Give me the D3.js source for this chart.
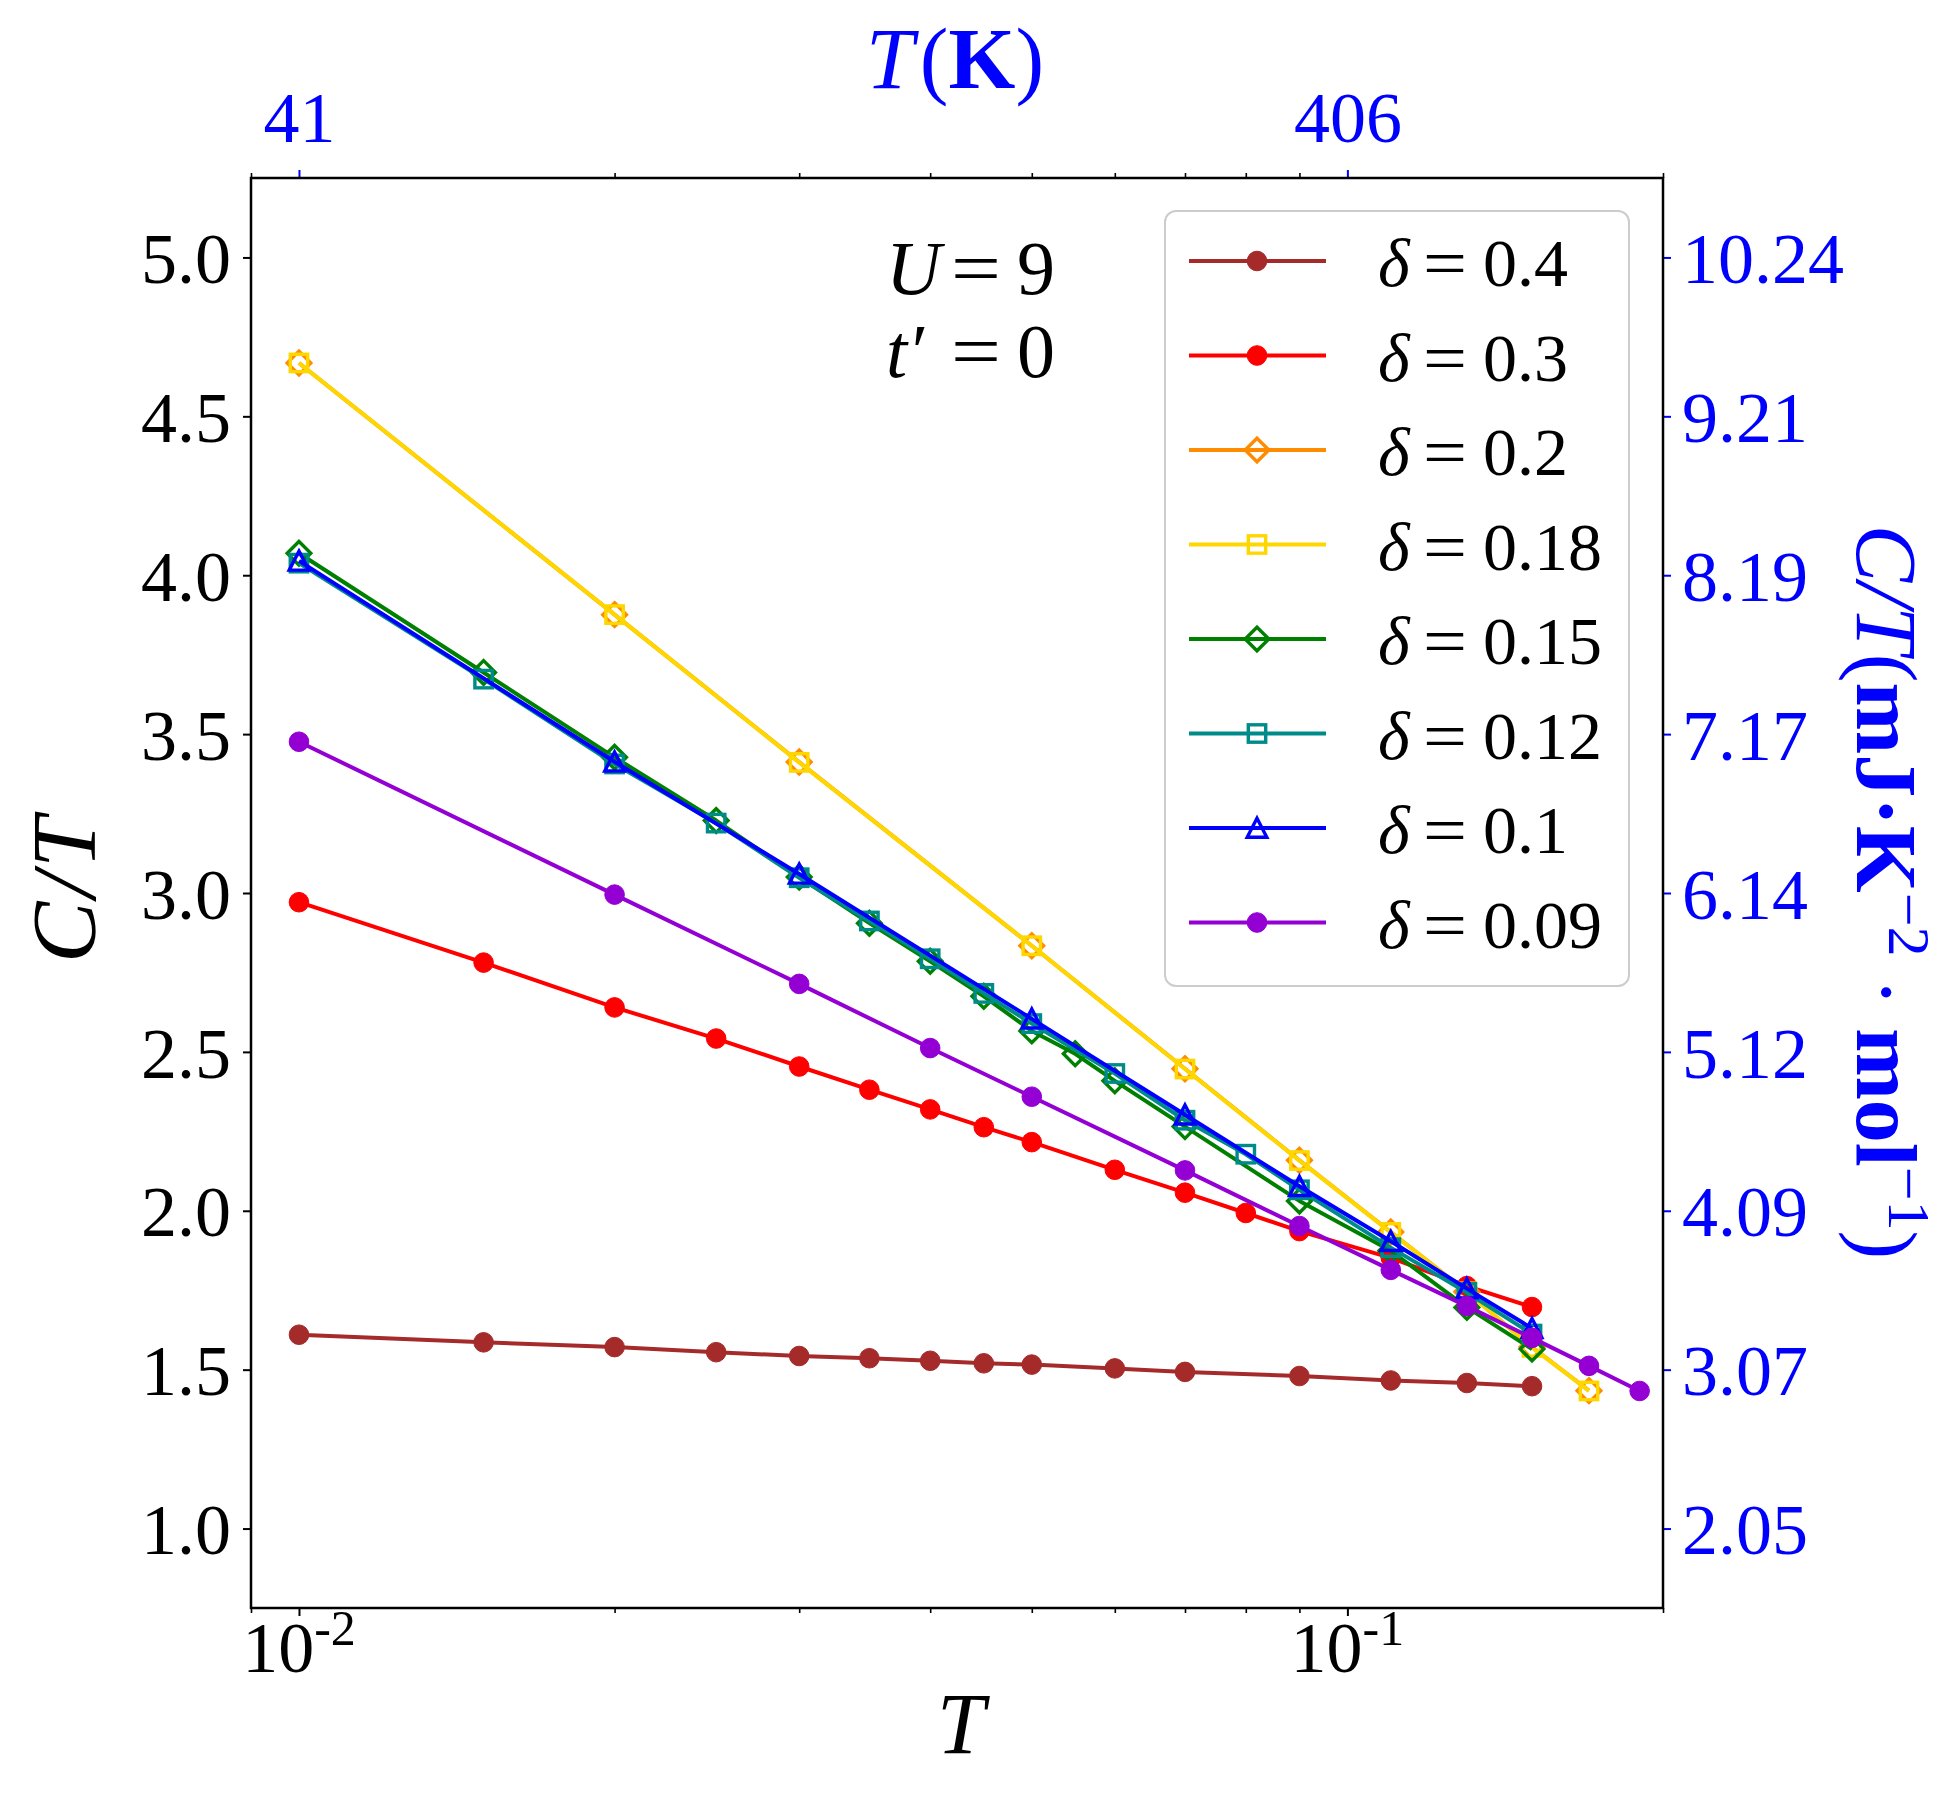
<!DOCTYPE html>
<html>
<head>
<meta charset="utf-8">
<script src="https://cdn.jsdelivr.net/npm/d3@7"></script>
<style>
    body { margin: 0; background: #ffffff; }
    text { font-family: "Liberation Serif", "Times New Roman", serif; }
</style>
</head>
<body>
<svg id="chart" width="1950" height="1800"></svg>
<script>
// C/T vs T, one pair of arrays per doping delta
var T_040 = [0.01, 0.015, 0.02, 0.025, 0.03, 0.035, 0.04, 0.045, 0.05, 0.06, 0.07, 0.09, 0.11, 0.13, 0.15];
var CT_040 = [1.610, 1.586, 1.571, 1.555, 1.543, 1.536, 1.528, 1.520, 1.516, 1.504, 1.493, 1.480, 1.466, 1.458, 1.448];

var T_030 = [0.01, 0.015, 0.02, 0.025, 0.03, 0.035, 0.04, 0.045, 0.05, 0.06, 0.07, 0.08, 0.09, 0.11, 0.13, 0.15];
var CT_030 = [2.971, 2.781, 2.640, 2.542, 2.454, 2.381, 2.319, 2.263, 2.216, 2.129, 2.057, 1.993, 1.936, 1.852, 1.763, 1.697];

var T_020 = [0.01, 0.02, 0.03, 0.05, 0.07, 0.09, 0.11, 0.13, 0.15, 0.17];
var CT_020 = [4.668, 3.876, 3.412, 2.834, 2.447, 2.159, 1.933, 1.745, 1.571, 1.434];

var T_018 = [0.01, 0.02, 0.03, 0.05, 0.07, 0.09, 0.11, 0.13, 0.15, 0.17];
var CT_018 = [4.668, 3.876, 3.411, 2.834, 2.446, 2.158, 1.932, 1.745, 1.570, 1.433];

var T_015 = [0.01, 0.015, 0.02, 0.025, 0.03, 0.035, 0.04, 0.045, 0.05, 0.055, 0.06, 0.07, 0.09, 0.11, 0.13, 0.15];
var CT_015 = [4.069, 3.694, 3.427, 3.228, 3.050, 2.905, 2.785, 2.675, 2.566, 2.494, 2.409, 2.265, 2.031, 1.874, 1.696, 1.565];

var T_012 = [0.01, 0.015, 0.02, 0.025, 0.03, 0.035, 0.04, 0.045, 0.05, 0.06, 0.07, 0.08, 0.09, 0.11, 0.13, 0.15];
var CT_012 = [4.038, 3.673, 3.406, 3.220, 3.048, 2.912, 2.793, 2.684, 2.589, 2.432, 2.285, 2.178, 2.066, 1.884, 1.743, 1.612];

var T_010 = [0.01, 0.02, 0.03, 0.05, 0.07, 0.09, 0.11, 0.13, 0.15];
var CT_010 = [4.045, 3.413, 3.060, 2.604, 2.302, 2.077, 1.904, 1.755, 1.630];

var T_009 = [0.01, 0.02, 0.03, 0.04, 0.05, 0.07, 0.09, 0.11, 0.13, 0.15, 0.17, 0.19];
var CT_009 = [3.476, 2.995, 2.714, 2.512, 2.359, 2.127, 1.952, 1.814, 1.700, 1.600, 1.512, 1.433];

var deltaLabels = ["0.4", "0.3", "0.2", "0.18", "0.15", "0.12", "0.1", "0.09"];
var seriesColors = ["#a52a2a", "#ff0000", "#ff8c00", "#ffd700", "#008000", "#008b8b", "#0000ff", "#9400d3"];
var seriesMarkers = ["circle", "circle", "diamond", "square", "diamond", "square", "triangle", "circle"];
var seriesT = [T_040, T_030, T_020, T_018, T_015, T_012, T_010, T_009];
var seriesCT = [CT_040, CT_030, CT_020, CT_018, CT_015, CT_012, CT_010, CT_009];

// axes ticks
var yTicks = [1.0, 1.5, 2.0, 2.5, 3.0, 3.5, 4.0, 4.5, 5.0];
var rightTickLabels = ["2.05", "3.07", "4.09", "5.12", "6.14", "7.17", "8.19", "9.21", "10.24"];
var xMajor = [0.01, 0.1];
var xMajorExp = ["-2", "-1"];
var topLabels = ["41", "406"];
var xMinor = [0.009, 0.02, 0.03, 0.04, 0.05, 0.06, 0.07, 0.08, 0.09, 0.2];

(function () {
    var svg = d3.select("svg#chart");
    // plot box (window.top is read-only, hence the prefixes)
    var pLeft = 251, pRight = 1663, pTop = 178, pBottom = 1608;

    svg.append("rect").attr("width", 1950).attr("height", 1800).attr("fill", "#ffffff");

    var x = d3.scaleLog().domain([0.009, 0.2]).range([pLeft, pRight]);
    var y = d3.scaleLinear().domain([0.75, 5.25]).range([pBottom, pTop]);

    var TICK_FONT = 72;
    var LINE_W = 4, EDGE_W = 3.4;

    // bottom axis: major + minor ticks, labels 10^-n drawn by hand
    var gBottom = svg.append("g").attr("transform", "translate(0," + pBottom + ")");
    gBottom.call(d3.axisBottom(x).tickValues(xMajor).tickSize(8).tickSizeOuter(0).tickFormat(""));
    var gBottomMinor = svg.append("g").attr("transform", "translate(0," + pBottom + ")");
    gBottomMinor.call(d3.axisBottom(x).tickValues(xMinor).tickSize(5).tickSizeOuter(0).tickFormat(""));

    xMajor.forEach(function (v, i) {
        var t = svg.append("text")
            .attr("x", x(v))
            .attr("y", 1672)
            .attr("text-anchor", "middle")
            .attr("font-size", TICK_FONT)
            .attr("fill", "#000");
        t.append("tspan").text("10");
        t.append("tspan").attr("dy", -27).attr("font-size", 50).text(xMajorExp[i]);
    });

    // top axis (temperature in K)
    var gTop = svg.append("g").attr("transform", "translate(0," + pTop + ")");
    gTop.call(d3.axisTop(x).tickValues(xMajor).tickSize(8).tickSizeOuter(0)
        .tickFormat(function (d, i) { return topLabels[i]; }).tickPadding(22));
    var gTopMinor = svg.append("g").attr("transform", "translate(0," + pTop + ")");
    gTopMinor.call(d3.axisTop(x).tickValues(xMinor).tickSize(5).tickSizeOuter(0).tickFormat(""));

    // left axis
    var gLeft = svg.append("g").attr("transform", "translate(" + pLeft + ",0)");
    gLeft.call(d3.axisLeft(y).tickValues(yTicks).tickSize(8).tickSizeOuter(0).tickPadding(12)
        .tickFormat(d3.format(".1f")));

    // right axis, same positions, labels in mJ K^-2 mol^-1
    var gRight = svg.append("g").attr("transform", "translate(" + pRight + ",0)");
    gRight.call(d3.axisRight(y).tickValues(yTicks).tickSize(8).tickSizeOuter(0).tickPadding(11)
        .tickFormat(function (d, i) { return rightTickLabels[i]; }));

    svg.selectAll(".domain").remove();
    svg.selectAll(".tick line").attr("stroke", "#000").attr("stroke-width", 2);
    gBottomMinor.selectAll(".tick line").attr("stroke-width", 1.6);
    gTopMinor.selectAll(".tick line").attr("stroke-width", 1.6);
    gTop.selectAll(".tick line").attr("stroke", "#0000ff");
    gRight.selectAll(".tick line").attr("stroke", "#0000ff");

    svg.selectAll(".tick text")
        .attr("font-family", "Liberation Serif, serif")
        .attr("font-size", TICK_FONT);
    gLeft.selectAll(".tick text").attr("fill", "#000").attr("dy", "0.35em");
    gRight.selectAll(".tick text").attr("fill", "#0000ff").attr("dy", "0.35em");
    gTop.selectAll(".tick text").attr("fill", "#0000ff").attr("dy", "-0.08em");

    // series: line first, then markers (matplotlib order)
    var line = d3.line()
        .x(function (d) { return x(d[0]); })
        .y(function (d) { return y(d[1]); });

    function drawMarker(g, kind, color) {
        if (kind === "circle") {
            g.append("circle").attr("r", 9.8).attr("fill", color).attr("stroke", color).attr("stroke-width", 1);
        } else if (kind === "square") {
            g.append("rect").attr("x", -8.7).attr("y", -8.7).attr("width", 17.4).attr("height", 17.4)
                .attr("fill", "none").attr("stroke", color).attr("stroke-width", EDGE_W);
        } else if (kind === "diamond") {
            g.append("path").attr("d", "M0,-11.8L11.8,0L0,11.8L-11.8,0Z")
                .attr("fill", "none").attr("stroke", color).attr("stroke-width", EDGE_W);
        } else if (kind === "triangle") {
            g.append("path").attr("d", "M0,-9.8L9.8,9.2L-9.8,9.2Z")
                .attr("fill", "none").attr("stroke", color).attr("stroke-width", EDGE_W);
        }
    }

    var plot = svg.append("g").attr("class", "plot");
    seriesT.forEach(function (ts, i) {
        var pts = ts.map(function (t, j) { return [t, seriesCT[i][j]]; });
        var g = plot.append("g");
        g.append("path")
            .datum(pts)
            .attr("d", line)
            .attr("fill", "none")
            .attr("stroke", seriesColors[i])
            .attr("stroke-width", LINE_W)
            .attr("stroke-linejoin", "round");
        g.selectAll(".mk")
            .data(pts)
            .enter().append("g")
            .attr("class", "mk")
            .attr("transform", function (d) { return "translate(" + x(d[0]) + "," + y(d[1]) + ")"; })
            .each(function () { drawMarker(d3.select(this), seriesMarkers[i], seriesColors[i]); });
    });

    // frame
    svg.append("rect")
        .attr("x", pLeft).attr("y", pTop)
        .attr("width", pRight - pLeft).attr("height", pBottom - pTop)
        .attr("fill", "none").attr("stroke", "#000").attr("stroke-width", 2.5);

    // annotation U = 9, t' = 0
    var ann = svg.append("g").attr("font-size", 76).attr("fill", "#000");
    ann.append("text").attr("x", 886).attr("y", 294).attr("font-style", "italic").text("U");
    ann.append("text").attr("x", 951).attr("y", 294).attr("textLength", 50).attr("lengthAdjust", "spacingAndGlyphs").text("=");
    ann.append("text").attr("x", 1017).attr("y", 294).text("9");
    ann.append("text").attr("x", 886).attr("y", 377).attr("font-style", "italic").text("t\u2032");
    ann.append("text").attr("x", 951).attr("y", 377).attr("textLength", 50).attr("lengthAdjust", "spacingAndGlyphs").text("=");
    ann.append("text").attr("x", 1017).attr("y", 377).text("0");

    // legend
    var legX = 1165, legY = 211, legW = 464, legH = 775, rowH = 94.5;
    var legend = svg.append("g");
    legend.append("rect")
        .attr("x", legX).attr("y", legY).attr("width", legW).attr("height", legH)
        .attr("rx", 11).attr("ry", 11)
        .attr("fill", "#ffffff").attr("fill-opacity", 0.8)
        .attr("stroke", "#cccccc").attr("stroke-width", 2);

    deltaLabels.forEach(function (lab, i) {
        var cy = legY + 50 + i * rowH;
        legend.append("line")
            .attr("x1", legX + 24).attr("x2", legX + 161)
            .attr("y1", cy).attr("y2", cy)
            .attr("stroke", seriesColors[i]).attr("stroke-width", LINE_W);
        var mg = legend.append("g").attr("transform", "translate(" + (legX + 92) + "," + cy + ")");
        drawMarker(mg, seriesMarkers[i], seriesColors[i]);
        legend.append("text").attr("x", legX + 213).attr("y", cy + 25)
            .attr("font-size", 68).attr("font-style", "italic").text("\u03b4");
        legend.append("text").attr("x", legX + 258).attr("y", cy + 25)
            .attr("font-size", 68).attr("textLength", 44).attr("lengthAdjust", "spacingAndGlyphs").text("=");
        legend.append("text").attr("x", legX + 318).attr("y", cy + 25)
            .attr("font-size", 68).text(lab);
    });

    // axis titles
    svg.append("text")
        .attr("x", 961).attr("y", 1753)
        .attr("text-anchor", "middle")
        .attr("font-size", 86).attr("font-style", "italic")
        .text("T");

    var topTitle = svg.append("text")
        .attr("x", 955).attr("y", 88)
        .attr("text-anchor", "middle")
        .attr("font-size", 86).attr("fill", "#0000ff");
    topTitle.append("tspan").attr("font-style", "italic").text("T");
    topTitle.append("tspan").attr("dx", 6).text("(");
    topTitle.append("tspan").attr("font-weight", "bold").text("K");
    topTitle.append("tspan").text(")");

    svg.append("text")
        .attr("transform", "translate(95,888) rotate(-90)")
        .attr("text-anchor", "middle")
        .attr("font-size", 92).attr("font-style", "italic")
        .attr("letter-spacing", 4)
        .text("C/T");

    var rightTitle = svg.append("text")
        .attr("transform", "translate(1857,892) rotate(90)")
        .attr("text-anchor", "middle")
        .attr("font-size", 86).attr("fill", "#0000ff");
    rightTitle.append("tspan").attr("font-style", "italic").text("C/T");
    rightTitle.append("tspan").text("(");
    rightTitle.append("tspan").attr("font-weight", "bold").text("mJ\u00b7K");
    rightTitle.append("tspan").attr("dy", -32).attr("font-size", 60).text("\u22122");
    rightTitle.append("tspan").attr("dy", 32).text(" \u00b7 ");
    rightTitle.append("tspan").attr("font-weight", "bold").text("mol");
    rightTitle.append("tspan").attr("dy", -32).attr("font-size", 60).text("\u22121");
    rightTitle.append("tspan").attr("dy", 32).text(")");
})();
</script>
</body>
</html>
